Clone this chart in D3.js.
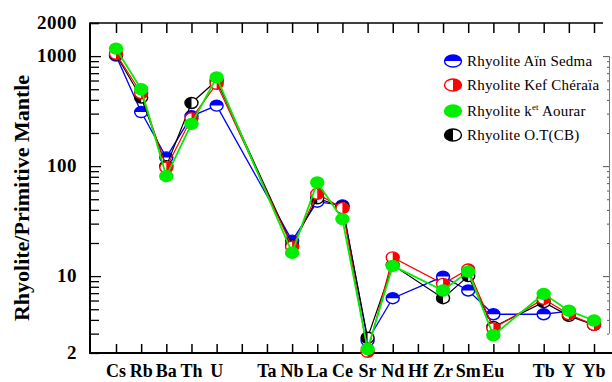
<!DOCTYPE html>
<html>
<head>
<meta charset="utf-8">
<script src="https://cdn.jsdelivr.net/npm/d3@7"></script>
<style>
  body { margin: 0; background: #fff; }
  svg { display: block; font-family: "Liberation Serif", "Times New Roman", serif; }
</style>
</head>
<body>
<div id="chart"></div>
<script>
// element positions on the x axis (blank ones have no label and no data)
const elements = ["Cs", "Rb", "Ba", "Th", "U", "", "Ta", "Nb", "La", "Ce", "Sr", "Nd", "Hf", "Zr", "Sm", "Eu", "", "Tb", "Y", "Yb"];

// normalised values, null = not plotted
const ainSedma  = [1010, 310, 120, 285, 355, null, null, 21, 47.5, 44, 2.6, 6.3, null, 9.9, 7.4, 4.5, null, 4.5, 4.8, null];
const kefCheraia = [1050, 460, 97, 272, 560, null, null, 18.5, 56, 41.5, 2.05, 14.8, null, 8.5, 11.5, 3.35, null, 6.2, 4.5, 3.6];
const ketAourar = [1170, 500, 81, 242, 640, null, null, 16.3, 71, 33, 2.17, 12.4, null, 7.4, 11, 2.9, null, 6.9, 4.85, 3.95];
const otCB      = [1030, 420, 100, 375, 600, null, null, 19, 51, 42.5, 2.75, 12.6, null, 6.3, 10, 3.45, null, 5.8, 4.35, 3.6];

const yLabels = [2, 10, 100, 1000, 2000];

const series = [
  { name: "Rhyolite Aïn Sedma", values: ainSedma, color: "#0000ff", half: "top", lw: 1.3 },
  { name: "Rhyolite O.T(CB)", values: otCB, color: "#000000", half: "left", lw: 1.2 },
  { name: "Rhyolite Kef Chéraïa", values: kefCheraia, color: "#ff0000", half: "right", lw: 1.2 },
  { name: "Rhyolite ket Aourar", values: ketAourar, color: "#00ee00", half: "full", lw: 1.8 }
];
const legendOrder = [0, 2, 3, 1];

const W = 612, H = 382;
const plotLeft = 90, plotTop = 23, plotBottom = 353;

const svg = d3.select("#chart").append("svg")
  .attr("width", W).attr("height", H);

const x = d3.scalePoint().domain(d3.range(elements.length)).range([116, 594]);
const y = d3.scaleLog().domain([2, 2000]).range([plotBottom, plotTop]);

// log ticks 2..2000
const logTicks = [];
[1, 10, 100, 1000].forEach(dec => {
  for (let m = 1; m <= 9; m++) {
    const v = m * dec;
    if (v >= 2 && v <= 2000) logTicks.push(v);
  }
});
logTicks.push(2000);
const isMajor = v => [10, 100, 1000].includes(v);

// left axis
const yAxis = svg.append("g")
  .attr("transform", `translate(${plotLeft},0)`)
  .call(d3.axisRight(y).tickValues(logTicks).tickSize(9).tickFormat(""));
yAxis.select(".domain").remove();
yAxis.selectAll(".tick line")
  .attr("stroke", "#000")
  .attr("stroke-width", 1.3)
  .attr("x2", d => isMajor(d) ? 11 : 9);

// partial axis of the neighbouring panel at the right edge
const rAxis = svg.append("g")
  .attr("transform", "translate(609,0)")
  .call(d3.axisLeft(y).tickValues(logTicks.filter(v => v >= 3 && v <= 1000)).tickSize(2).tickFormat(""));
rAxis.select(".domain").remove();
rAxis.selectAll(".tick line")
  .attr("stroke", "#555")
  .attr("x2", d => isMajor(d) ? -6 : -2);
svg.append("line")
  .attr("x1", 609.5).attr("x2", 609.5)
  .attr("y1", y(1000)).attr("y2", y(3))
  .attr("stroke", "#777").attr("stroke-width", 1);

// bottom and top ticks
const xb = svg.append("g")
  .attr("transform", `translate(0,${plotBottom})`)
  .call(d3.axisTop(x).tickSize(9).tickFormat(""));
xb.select(".domain").remove();
xb.selectAll(".tick line").attr("stroke", "#000").attr("stroke-width", 1.5);

const xt = svg.append("g")
  .attr("transform", `translate(0,${plotTop})`)
  .call(d3.axisBottom(x).tickSize(10).tickFormat(""));
xt.select(".domain").remove();
xt.selectAll(".tick line").attr("stroke", "#000").attr("stroke-width", 1.5);

// frame lines
svg.append("line").attr("x1", plotLeft).attr("x2", plotLeft).attr("y1", plotTop - 0.5).attr("y2", plotBottom + 1)
  .attr("stroke", "#000").attr("stroke-width", 2);
svg.append("line").attr("x1", plotLeft).attr("x2", 603).attr("y1", plotTop).attr("y2", plotTop)
  .attr("stroke", "#000").attr("stroke-width", 1.5);
svg.append("line").attr("x1", plotLeft).attr("x2", W).attr("y1", plotBottom).attr("y2", plotBottom)
  .attr("stroke", "#000").attr("stroke-width", 2);

// y tick labels
svg.selectAll("text.ylab")
  .data(yLabels)
  .enter().append("text")
  .attr("class", "ylab")
  .attr("x", 77)
  .attr("y", d => y(d) + 6)
  .attr("text-anchor", "end")
  .attr("font-weight", "bold")
  .attr("font-size", 19)
  .attr("letter-spacing", 0.5)
  .text(d => d);

// x tick labels
svg.selectAll("text.xlab")
  .data(elements.map((e, i) => ({ e, i })).filter(d => d.e))
  .enter().append("text")
  .attr("class", "xlab")
  .attr("x", d => x(d.i))
  .attr("y", 377)
  .attr("text-anchor", "middle")
  .attr("font-weight", "bold")
  .attr("font-size", 18)
  .text(d => d.e);

// y title
svg.append("text")
  .attr("transform", "translate(29,198) rotate(-90)")
  .attr("text-anchor", "middle")
  .attr("font-weight", "bold")
  .attr("font-size", 22)
  .text("Rhyolite/Primitive Mantle");

// marker drawing
function marker(g, s, rx, ry) {
  g.append("ellipse")
    .attr("rx", rx).attr("ry", ry)
    .attr("fill", s.half === "full" ? s.color : "#fff")
    .attr("stroke", s.color).attr("stroke-width", 1.4);
  let p = null;
  if (s.half === "top") p = `M${-rx},0A${rx},${ry} 0 0 1 ${rx},0Z`;
  if (s.half === "right") p = `M0,${-ry}A${rx},${ry} 0 0 1 0,${ry}Z`;
  if (s.half === "left") p = `M0,${-ry}A${rx},${ry} 0 0 0 0,${ry}Z`;
  if (p) g.append("path").attr("d", p).attr("fill", s.color);
}

series.forEach(s => {
  const pts = s.values.map((v, i) => ({ v, i })).filter(d => d.v != null);
  svg.append("path")
    .attr("d", d3.line().x(d => x(d.i)).y(d => y(d.v))(pts))
    .attr("fill", "none")
    .attr("stroke", s.color)
    .attr("stroke-width", s.lw);
  pts.forEach(d => {
    const g = svg.append("g").attr("transform", `translate(${x(d.i)},${y(d.v)})`);
    marker(g, s, 6.5, 5.5);
  });
});

// legend
legendOrder.forEach((k, j) => {
  const s = series[k];
  const cy = [61, 85, 111, 135][j];
  const g = svg.append("g").attr("transform", `translate(453,${cy})`);
  marker(g, s, 8.5, 6);
  const t = svg.append("text")
    .attr("x", 467).attr("y", cy + 5)
    .attr("font-size", 15)
    .attr("letter-spacing", 0.2);
  if (k === 3) {
    t.append("tspan").text("Rhyolite k");
    t.append("tspan").attr("dy", -6).attr("font-size", 9).text("et");
    t.append("tspan").attr("dy", 6).text(" Aourar");
  } else {
    t.text(s.name);
  }
});
</script>
</body>
</html>
